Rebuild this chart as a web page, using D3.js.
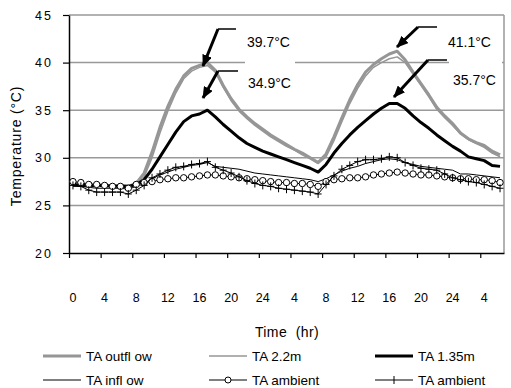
<!DOCTYPE html>
<html>
<head>
<meta charset="utf-8">
<script src="https://cdn.jsdelivr.net/npm/d3@7"></script>
<style>
    body { margin: 0; background: #fff; }
    svg { font-family: "Liberation Sans", Arial, sans-serif; }
</style>
</head>
<body>
<div class="chart"></div>
<script>
// hourly categories, two days and a bit
var hours = [0, 1, 2, 3, 4, 5, 6, 7, 8, 9, 10, 11, 12, 13, 14, 15, 16, 17, 18, 19,
    20, 21, 22, 23, 24, 25, 26, 27, 28, 29, 30, 31, 32, 33, 34, 35, 36, 37, 38, 39,
    40, 41, 42, 43, 44, 45, 46, 47, 48, 49, 50, 51, 52, 53, 54];

var tickHours = [0, 4, 8, 12, 16, 20, 24, 28, 32, 36, 40, 44, 48, 52];
var tickLabels = ["0", "4", "8", "12", "16", "20", "24", "4", "8", "12", "16", "20", "24", "4"];
var yTicks = [20, 25, 30, 35, 40, 45];

var taOutflow = [27.3, 27.2, 27.2, 27.2, 27.1, 27.1, 27.1, 27.0,
    27.3, 28.4, 30.6, 33.2, 35.4, 37.2, 38.6, 39.4, 39.7, 40.0,
    39.2, 37.6, 36.2, 35.1, 34.3, 33.6, 33.0, 32.4, 31.9, 31.4, 30.9, 30.5, 30.0, 29.5,
    30.4, 32.2, 34.2, 36.1, 37.7, 39.0, 39.8, 40.4, 40.9, 41.2,
    40.3, 39.0, 37.8, 36.6, 35.3, 34.4, 33.6, 32.6, 32.0, 31.6, 31.3, 30.7, 30.3];

var ta22m = [27.2, 27.1, 27.1, 27.1, 27.0, 27.0, 27.0, 27.0,
    27.2, 28.0, 30.0, 32.6, 34.9, 36.8, 38.3, 39.1, 39.5, 39.7,
    39.0, 37.4, 36.0, 34.9, 34.1, 33.4, 32.8, 32.2, 31.7, 31.2, 30.8, 30.3, 29.9, 29.4,
    30.1, 31.8, 33.8, 35.7, 37.3, 38.6, 39.5, 40.0, 40.4, 40.6,
    40.0, 38.8, 37.6, 36.4, 35.1, 34.2, 33.4, 32.5, 31.9, 31.5, 31.1, 30.5, 30.1];

var ta135m = [27.2, 27.1, 27.1, 27.1, 27.1, 27.0, 27.0, 27.0,
    27.2, 27.7, 28.8, 30.1, 31.4, 32.7, 33.8, 34.4, 34.6, 35.0,
    34.3, 33.5, 32.8, 32.1, 31.5, 31.1, 30.7, 30.4, 30.1, 29.8, 29.5, 29.2, 28.9, 28.5,
    29.3, 30.5, 31.5, 32.4, 33.2, 33.9, 34.6, 35.2, 35.7, 35.7,
    35.2, 34.4, 33.7, 33.1, 32.4, 31.8, 31.2, 30.7, 30.1, 29.9, 29.7, 29.2, 29.1];

var taInflow = [27.0, 27.0, 26.9, 26.8, 26.8, 26.8, 26.8, 26.7,
    27.0, 27.3, 27.8, 28.2, 28.5, 28.8, 29.0, 29.2, 29.3, 29.5,
    29.1, 29.0, 28.9, 28.8, 28.6, 28.4, 28.3, 28.2, 28.1, 28.0, 27.9, 27.8, 27.7, 27.5,
    27.8, 28.2, 28.6, 28.9, 29.1, 29.4, 29.6, 29.8, 29.9, 29.8,
    29.5, 29.3, 29.1, 29.0, 28.9, 28.8, 28.7, 28.3, 28.3, 28.2, 28.1, 28.0, 27.9];

var taAmbientO = [27.5, 27.4, 27.2, 27.2, 27.1, 27.0, 27.0, 26.8,
    27.2, 27.4, 27.5, 27.7, 27.8, 27.9, 27.9, 28.0, 28.1, 28.2,
    28.2, 28.1, 28.0, 27.9, 27.8, 27.7, 27.6, 27.5, 27.4, 27.4, 27.3, 27.3, 27.2, 27.0,
    27.5, 27.7, 27.8, 27.9, 27.9, 28.0, 28.2, 28.3, 28.4, 28.5,
    28.4, 28.3, 28.2, 28.2, 28.1, 28.0, 27.9, 27.8, 27.8, 27.7, 27.7, 27.6, 27.4];

var taAmbientPlus = [27.1, 27.0, 26.6, 26.4, 26.4, 26.4, 26.4, 26.2,
    26.6, 27.1, 27.9, 28.3, 28.7, 29.0, 29.1, 29.3, 29.4, 29.6,
    29.0, 28.7, 28.4, 28.0, 27.6, 27.3, 27.1, 27.0, 26.8, 26.7, 26.6, 26.5, 26.4, 26.2,
    27.2, 28.1, 28.8, 29.2, 29.6, 29.8, 29.8, 29.9, 30.1, 30.0,
    29.5, 29.2, 28.9, 28.8, 28.7, 28.3, 27.9, 27.7, 27.5, 27.4, 27.2, 27.0, 26.8];

var peakLabels = ["39.7\u00b0C", "34.9\u00b0C", "41.1\u00b0C", "35.7\u00b0C"];

var series = [
    { name: "TA outfl ow", values: taOutflow, color: "#969696", width: 3, marker: null },
    { name: "TA 2.2m", values: ta22m, color: "#969696", width: 1.5, marker: null },
    { name: "TA 1.35m", values: ta135m, color: "#000", width: 3, marker: null },
    { name: "TA infl ow", values: taInflow, color: "#000", width: 1, marker: null },
    { name: "TA ambient", values: taAmbientO, color: "#000", width: 1, marker: "circle" },
    { name: "TA ambient", values: taAmbientPlus, color: "#000", width: 1, marker: "plus" }
];

var svgWidth = 511, svgHeight = 388,
    plotLeft = 69, plotRight = 504, plotTop = 15, plotBottom = 253;

var svg = d3.select(".chart").append("svg")
    .attr("width", svgWidth)
    .attr("height", svgHeight);

var x = d3.scaleBand().domain(hours).range([plotLeft, plotRight]).padding(0);
var xEdge = d3.scaleLinear().domain([0, hours.length]).range([plotLeft, plotRight]);
var y = d3.scaleLinear().domain([20, 45]).range([plotBottom, plotTop]);
var xc = function (h) { return x(h) + x.bandwidth() / 2; };

// grid lines
svg.append("g").selectAll("line")
    .data(yTicks.slice(1))
    .enter().append("line")
    .attr("x1", plotLeft).attr("x2", plotRight)
    .attr("y1", function (d) { return y(d); })
    .attr("y2", function (d) { return y(d); })
    .attr("stroke", "#999")
    .attr("stroke-width", 1.5);

svg.append("line")
    .attr("x1", plotRight).attr("x2", plotRight)
    .attr("y1", plotTop).attr("y2", plotBottom)
    .attr("stroke", "#999").attr("stroke-width", 1.5);

// white boxes behind the peak labels
var boxes = [[245, 30, 50, 65], [449, 30, 53, 65]];
svg.append("g").selectAll("rect")
    .data(boxes)
    .enter().append("rect")
    .attr("x", function (d) { return d[0]; })
    .attr("y", function (d) { return d[1]; })
    .attr("width", function (d) { return d[2]; })
    .attr("height", function (d) { return d[3]; })
    .attr("fill", "#fff");

// axes
var yAxis = svg.append("g")
    .attr("transform", "translate(" + plotLeft + ",0)")
    .call(d3.axisLeft(y).tickValues(yTicks).tickSize(6).tickPadding(10).tickSizeOuter(0));
yAxis.select(".domain").attr("stroke", "#000").attr("stroke-width", 1.5);
yAxis.selectAll(".tick line").attr("stroke", "#000").attr("stroke-width", 1.2);
yAxis.selectAll("text")
    .attr("font-size", 12.5)
    .attr("letter-spacing", 2)
    .attr("fill", "#000");

var xTicks = svg.append("g")
    .attr("transform", "translate(0," + plotBottom + ")")
    .call(d3.axisBottom(xEdge).tickValues(tickHours).tickSize(5).tickFormat("").tickSizeOuter(0));
xTicks.select(".domain").attr("stroke", "#000").attr("stroke-width", 1.5);
xTicks.selectAll(".tick line").attr("stroke", "#000").attr("stroke-width", 1.2);

var xLabels = svg.append("g")
    .attr("transform", "translate(0," + plotBottom + ")")
    .call(d3.axisBottom(x).tickValues(tickHours).tickSize(0).tickPadding(40)
        .tickFormat(function (d, i) { return tickLabels[i]; }));
xLabels.select(".domain").remove();
xLabels.selectAll("text").attr("font-size", 12.5).attr("fill", "#000");

// axis titles
svg.append("text")
    .attr("transform", "translate(21,146) rotate(-90)")
    .attr("text-anchor", "middle")
    .attr("font-size", 14)
    .attr("letter-spacing", 0.8)
    .text("Temperature (\u00b0C)");

svg.append("text")
    .attr("x", 287).attr("y", 337)
    .attr("text-anchor", "middle")
    .attr("font-size", 14)
    .attr("letter-spacing", 0.4)
    .style("white-space", "pre")
    .text("Time  (hr)");

// series lines
var line = d3.line()
    .x(function (d, i) { return xc(hours[i]); })
    .y(function (d) { return y(d); });

series.forEach(function (s) {
    svg.append("path")
        .datum(s.values)
        .attr("fill", "none")
        .attr("stroke", s.color)
        .attr("stroke-width", s.width)
        .attr("stroke-linejoin", "round")
        .attr("d", line);

    if (s.marker === "circle") {
        svg.append("g").selectAll("circle")
            .data(s.values)
            .enter().append("circle")
            .attr("cx", function (d, i) { return xc(hours[i]); })
            .attr("cy", function (d) { return y(d); })
            .attr("r", 3.2)
            .attr("fill", "#fff")
            .attr("stroke", "#000")
            .attr("stroke-width", 1);
    } else if (s.marker === "plus") {
        svg.append("g").selectAll("path")
            .data(s.values)
            .enter().append("path")
            .attr("d", function (d, i) {
                var cx = xc(hours[i]), cy = y(d);
                return "M" + (cx - 3.5) + "," + cy + "H" + (cx + 3.5) +
                    "M" + cx + "," + (cy - 4) + "V" + (cy + 4);
            })
            .attr("stroke", "#000")
            .attr("stroke-width", 1);
    }
});

// callouts: tip, elbow, end of leader, label position
var callouts = [
    { tip: [203, 66], elbow: [218, 29], end: [236, 29], text: [247, 47] },
    { tip: [203, 98], elbow: [218, 71], end: [238, 71], text: [248, 88] },
    { tip: [397, 47], elbow: [418, 27], end: [437, 27], text: [448, 47] },
    { tip: [394, 97], elbow: [428, 60], end: [447, 60], text: [453, 85] }
];

svg.append("defs").append("marker")
    .attr("id", "head")
    .attr("markerUnits", "userSpaceOnUse")
    .attr("viewBox", "0 0 12 10")
    .attr("refX", 11).attr("refY", 5)
    .attr("markerWidth", 12).attr("markerHeight", 10)
    .attr("orient", "auto")
    .append("path")
    .attr("d", "M0,0L12,5L0,10Z")
    .attr("fill", "#000");

callouts.forEach(function (c, i) {
    svg.append("line")
        .attr("x1", c.elbow[0]).attr("y1", c.elbow[1])
        .attr("x2", c.end[0]).attr("y2", c.end[1])
        .attr("stroke", "#000").attr("stroke-width", 1.5);
    svg.append("line")
        .attr("x1", c.elbow[0]).attr("y1", c.elbow[1])
        .attr("x2", c.tip[0]).attr("y2", c.tip[1])
        .attr("stroke", "#000").attr("stroke-width", 3)
        .attr("marker-end", "url(#head)");
    svg.append("text")
        .attr("x", c.text[0]).attr("y", c.text[1])
        .attr("font-size", 14)
        .text(peakLabels[i]);
});

// legend
var legendCols = [43, 209, 375];
var legendRows = [356, 380];
var legend = svg.append("g").selectAll("g")
    .data(series)
    .enter().append("g")
    .attr("transform", function (d, i) {
        return "translate(" + legendCols[i % 3] + "," + legendRows[Math.floor(i / 3)] + ")";
    });

legend.append("line")
    .attr("x1", 0).attr("x2", 38)
    .attr("stroke", function (d) { return d.color; })
    .attr("stroke-width", function (d) { return d.width; });

legend.filter(function (d) { return d.marker === "circle"; })
    .append("circle")
    .attr("cx", 19).attr("r", 3)
    .attr("fill", "#fff").attr("stroke", "#000");

legend.filter(function (d) { return d.marker === "plus"; })
    .append("path")
    .attr("d", "M19,-4V4")
    .attr("stroke", "#000");

legend.append("text")
    .attr("x", 43)
    .attr("dy", "0.35em")
    .attr("font-size", 13.5)
    .text(function (d) { return d.name; });
</script>
</body>
</html>
